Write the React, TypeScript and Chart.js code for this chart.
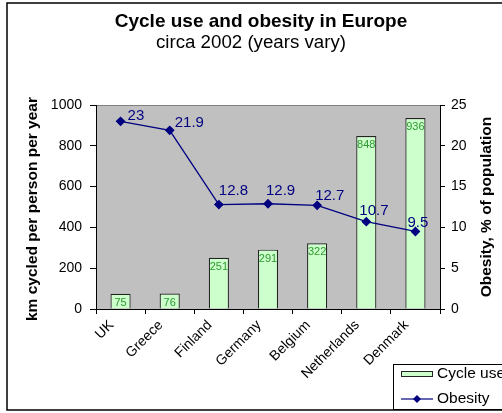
import React, { useEffect, useRef } from "react";
import { Chart, registerables } from "chart.js";

Chart.register(...registerables);

const countries = ["UK", "Greece", "Finland", "Germany", "Belgium", "Netherlands", "Denmark"];
const cycleKm = [75, 76, 251, 291, 322, 848, 936];
const obesityPct = [23, 21.9, 12.8, 12.9, 12.7, 10.7, 9.5];
const obesityLabels = ["23", "21.9", "12.8", "12.9", "12.7", "10.7", "9.5"];

const FONT = "'Liberation Sans', Arial, sans-serif";

const decorPlugin = {
  id: "decor",
  beforeDraw(chart: any) {
    const { ctx, chartArea: a, width, height } = chart;
    ctx.save();
    ctx.fillStyle = "#ffffff";
    ctx.fillRect(0, 0, width, height);
    ctx.fillStyle = "#c0c0c0";
    ctx.fillRect(a.left, a.top, a.right - a.left, a.bottom - a.top);
    ctx.strokeStyle = "#808080";
    ctx.lineWidth = 1;
    ctx.beginPath();
    ctx.moveTo(a.left, a.top + 0.5);
    ctx.lineTo(a.right, a.top + 0.5);
    ctx.stroke();
    ctx.restore();
  },
  afterDraw(chart: any) {
    const { ctx } = chart;
    ctx.save();
    // outer border
    ctx.strokeStyle = "#000000";
    ctx.lineWidth = 1.5;
    ctx.strokeRect(7, 3, 520, 407);

    // titles
    ctx.fillStyle = "#000";
    ctx.textAlign = "center";
    ctx.textBaseline = "middle";
    ctx.font = `bold 19px ${FONT}`;
    ctx.fillText("Cycle use and obesity in Europe", 261, 22);
    ctx.font = `18.7px ${FONT}`;
    ctx.fillText("circa 2002 (years vary)", 251, 43);

    // axis titles
    ctx.font = `bold 15.5px ${FONT}`;
    ctx.save();
    ctx.translate(33, 209);
    ctx.rotate(-Math.PI / 2);
    ctx.fillText("km cycled per person per year", 0, 0);
    ctx.restore();
    ctx.save();
    ctx.translate(487, 207);
    ctx.rotate(-Math.PI / 2);
    ctx.fillText("Obesity, % of population", 0, 0);
    ctx.restore();

    // bar labels
    const barMeta = chart.getDatasetMeta(1);
    ctx.font = `11px ${FONT}`;
    ctx.fillStyle = "#2e9a2e";
    barMeta.data.forEach((el: any, i: number) => {
      ctx.fillText(String(cycleKm[i]), el.x, el.y + 9);
    });

    // line labels
    const lineMeta = chart.getDatasetMeta(0);
    ctx.font = `15px ${FONT}`;
    ctx.fillStyle = "#000080";
    ctx.textAlign = "left";
    const shifts = [[7, -5], [5, -7], [0, -14], [-2, -13], [-2, -10], [-7, -11], [-8, -9]];
    lineMeta.data.forEach((el: any, i: number) => {
      ctx.fillText(obesityLabels[i], el.x + shifts[i][0], el.y + shifts[i][1]);
    });

    // legend
    ctx.fillStyle = "#ffffff";
    ctx.fillRect(393, 364, 120, 46);
    ctx.strokeStyle = "#000";
    ctx.lineWidth = 1;
    ctx.strokeRect(393.5, 364.5, 120, 45);
    ctx.fillStyle = "#ccffcc";
    ctx.fillRect(401, 371, 32, 5);
    ctx.strokeStyle = "#222";
    ctx.strokeRect(401.5, 371.5, 31, 5);
    ctx.strokeStyle = "#000080";
    ctx.lineWidth = 1.2;
    ctx.beginPath();
    ctx.moveTo(401, 399);
    ctx.lineTo(433, 399);
    ctx.stroke();
    ctx.fillStyle = "#000080";
    ctx.beginPath();
    ctx.moveTo(417, 395);
    ctx.lineTo(421, 399);
    ctx.lineTo(417, 403);
    ctx.lineTo(413, 399);
    ctx.closePath();
    ctx.fill();
    ctx.fillStyle = "#000";
    ctx.font = `15.5px ${FONT}`;
    ctx.textAlign = "left";
    ctx.fillText("Cycle use", 437, 374);
    ctx.fillText("Obesity", 437, 399);
    ctx.restore();
  },
};

export default function App() {
  const ref = useRef<HTMLCanvasElement>(null);
  useEffect(() => {
    const tickFont = { family: FONT, size: 14 };
    const chart = new Chart(ref.current as HTMLCanvasElement, {
      type: "bar",
      data: {
        labels: countries,
        datasets: [
          {
            type: "line",
            label: "Obesity",
            data: obesityPct,
            yAxisID: "y1",
            borderColor: "#000080",
            backgroundColor: "#000080",
            borderWidth: 1.3,
            pointStyle: "rectRot",
            pointRadius: 4,
            pointBackgroundColor: "#000080",
            pointBorderColor: "#000080",
            order: 0,
          } as any,
          {
            type: "bar",
            label: "Cycle use",
            data: cycleKm,
            yAxisID: "y",
            backgroundColor: "#ccffcc",
            borderColor: "#222222",
            borderWidth: 1.2,
            barPercentage: 0.41,
            categoryPercentage: 1,
            order: 1,
          },
        ],
      },
      options: {
        responsive: false,
        animation: false,
        events: [],
        layout: { padding: { top: 105, left: 0, right: 0, bottom: 0 } },
        plugins: { legend: { display: false }, title: { display: false }, tooltip: { enabled: false } },
        scales: {
          x: {
            offset: true,
            grid: { offset: true, drawOnChartArea: false, drawTicks: true, tickLength: 5, color: "#000" },
            border: { color: "#000", width: 1 },
            ticks: { maxRotation: 45, minRotation: 45, font: tickFont, color: "#000", padding: 3, labelOffset: -9 },
            afterFit: (s: any) => { s.height = 104; },
          },
          y: {
            position: "left",
            min: 0,
            max: 1000,
            ticks: { stepSize: 200, font: tickFont, color: "#000", padding: 8, callback: (v: any) => String(v) },
            grid: { drawOnChartArea: false, tickLength: 6, color: "#000" },
            border: { color: "#000", width: 1 },
            afterFit: (s: any) => { s.width = 96; },
          },
          y1: {
            position: "right",
            min: 0,
            max: 25,
            ticks: { stepSize: 5, font: tickFont, color: "#000", padding: 6, callback: (v: any) => String(v) },
            grid: { drawOnChartArea: false, tickLength: 5, color: "#000" },
            border: { color: "#000", width: 1 },
            afterFit: (s: any) => { s.width = 62; },
          },
        },
      } as any,
      plugins: [decorPlugin],
    });
    return () => chart.destroy();
  }, []);
  return (
    <div style={{ position: "fixed", left: 0, top: 0, width: 502, height: 413 }}>
      <canvas ref={ref} width={502} height={413} style={{ width: 502, height: 413 }} />
    </div>
  );
}
